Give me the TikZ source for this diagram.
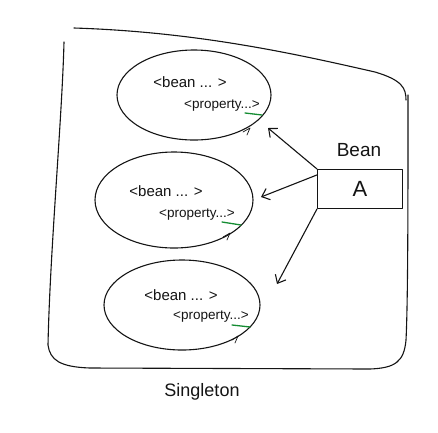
\documentclass[tikz,border=0pt]{standalone}
\usepackage{fontspec}
\setmainfont{Liberation Sans}
\usetikzlibrary{shapes.geometric,arrows.meta}
\definecolor{pen}{RGB}{20,20,20}
\definecolor{grn}{RGB}{20,140,50}
\tikzset{
  x=1pt,y=-1pt,
  ink/.style={draw=pen,line width=1.1pt,line cap=round,line join=round},
  blob/.style={ink,ellipse,minimum width=#1},
  lbl/.style={font=\fontsize{15}{16}\selectfont,text=pen,inner sep=0pt},
  plbl/.style={font=\fontsize{13.5}{14}\selectfont,text=pen,inner sep=0pt},
  arr/.style={ink,-{Straight Barb[length=7pt,width=12pt]}},
  uline/.style={draw=grn,line width=1.3pt,line cap=round},
}
\begin{document}
\begin{tikzpicture}
\useasboundingbox (0,0) rectangle (438,432);
% outer frame
\draw[ink] (74,28) .. controls (200,32) and (300,55) .. (375,72) .. controls (402,80) and (406,88) .. (406,100);
\draw[ink] (408,95) .. controls (408,200) and (408,300) .. (406,340) .. controls (404,362) and (395,368) .. (370,369) -- (90,368) .. controls (60,367) and (50,360) .. (48,345) .. controls (50,250) and (62,120) .. (64,42);
% ellipses
\node[blob=154pt,minimum height=90pt] (e1) at (194,95) {};
\node[blob=158pt,minimum height=96pt] (e2) at (174,200) {};
\node[blob=156pt,minimum height=90pt] (e3) at (182,305) {};
% ticks
\draw[ink,line width=0.7pt] (243,132) -- (250,128) -- (247,135);
\draw[ink,line width=0.7pt] (223,237) -- (230,233) -- (227,240);
\draw[ink,line width=0.7pt] (232,340) -- (238,336) -- (235,343);
% texts
\node[lbl] (b1) at (190,82) {<bean ... >};
\node[plbl] (p1) at (222,106) {<property...>};
\node[lbl] (b2) at (166,191) {<bean ... >};
\node[plbl] (p2) at (197,215) {<property...>};
\node[lbl] (b3) at (181,295) {<bean ... >};
\node[plbl] (p3) at (211,317) {<property...>};
\draw[uline] (245,113) -- (262,115);
\draw[uline] (222,222) -- (241,225);
\draw[uline] (232,325) -- (250,327);
% box A
\node[ink,minimum width=85pt,minimum height=39pt,inner sep=0pt,font=\fontsize{22}{24}\selectfont,text=pen] (A) at (360,189) {A};
\node[lbl,font=\fontsize{19}{20}\selectfont] (bean) at (359,150) {Bean};
\coordinate (a1) at (268,128);
\coordinate (a2) at (261,197);
\coordinate (a3) at (277,284);
\draw[arr] (A.north west) -- (a1);
\draw[arr] ([yshift=-6pt]A.north west) -- (a2);
\draw[arr] (A.south west) -- (a3);
\node[lbl,font=\fontsize{18}{20}\selectfont] (single) at (202,392) {Singleton};
\end{tikzpicture}
\end{document}
